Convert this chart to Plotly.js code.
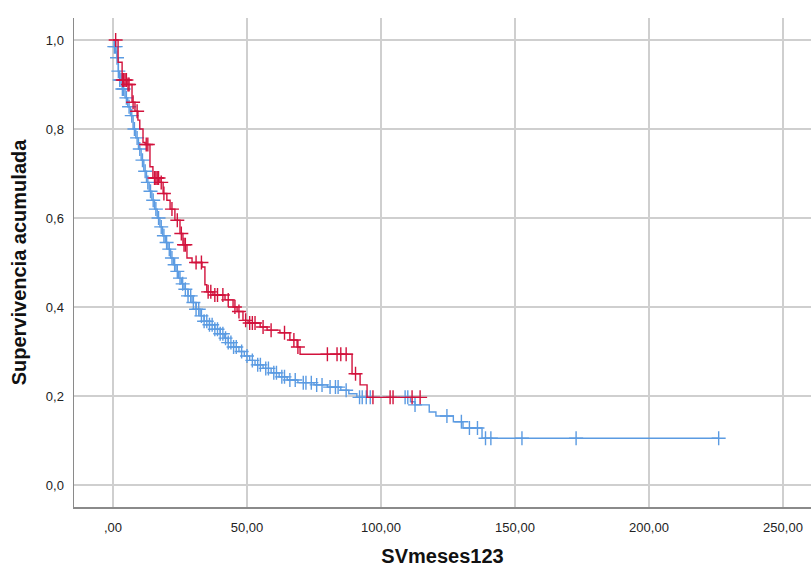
<!DOCTYPE html>
<html>
<head>
<meta charset="utf-8">
<script src="https://cdn.plot.ly/plotly-3.0.1.min.js"></script>
<style>html,body{margin:0;padding:0;background:#fff;}#chart{width:811px;height:567px;}</style>
</head>
<body>
<div id="chart"></div>
<script>
// Group 1 (red): event times and survival after each event
const redTimes = [0, 1.9, 3.4, 5.2, 7.1, 8.2, 9.3, 10, 11.2, 12, 13.8, 14.9, 17.5, 18.7, 20.1, 21.3, 23.1, 25, 26.1, 27.6, 29.5, 33.2, 34.3, 35, 37.3, 41.8, 44.8, 46.3, 48.5, 50.4, 54.9, 57.5, 62.3, 66, 68.7, 69.8, 89.2, 92.2, 94.8];
const redSurv  = [1.0, 0.95, 0.91, 0.90, 0.86, 0.84, 0.82, 0.80, 0.77, 0.765, 0.715, 0.69, 0.68, 0.655, 0.64, 0.62, 0.595, 0.565, 0.54, 0.51, 0.50, 0.49, 0.45, 0.434, 0.427, 0.416, 0.40, 0.39, 0.37, 0.364, 0.355, 0.348, 0.342, 0.326, 0.31, 0.294, 0.25, 0.225, 0.197];
const redCensored = [1, 3.6, 4, 4.5, 5, 5.6, 6, 7.5, 9, 12.4, 13, 15.5, 16, 16.5, 17, 18, 19, 22, 24, 25.5, 26.5, 27, 31, 33, 35.5, 36.5, 38, 39, 41, 43, 45.5, 47, 49.5, 51, 52, 53, 56, 59, 64, 67.5, 69, 80, 83.6, 85, 87, 90.5, 97, 103.4, 104.5, 111.6, 114.6];

// Group 2 (blue)
const blueTimes = [0, 0.5, 1.5, 2, 2.5, 3.5, 4.5, 5.5, 6.5, 7.5, 8.5, 9.5, 10.5, 11.5, 12.5, 13.5, 14.5, 15.5, 16.5, 17.5, 18.5, 19.5, 20.5, 21.5, 22.5, 23.5, 24.5, 25.5, 26.5, 28, 29.5, 31, 32.5, 34, 36, 38, 40, 41.5, 43, 45, 47, 49, 51, 53, 56, 59, 62, 65, 69, 75, 80, 85, 88, 91, 111, 112.7, 118, 120.5, 127, 130.6, 137.7];
const blueSurv  = [1.0, 0.985, 0.96, 0.93, 0.91, 0.89, 0.87, 0.85, 0.83, 0.80, 0.78, 0.755, 0.73, 0.705, 0.68, 0.66, 0.64, 0.62, 0.60, 0.58, 0.56, 0.545, 0.53, 0.51, 0.495, 0.48, 0.465, 0.452, 0.44, 0.425, 0.41, 0.395, 0.38, 0.368, 0.36, 0.35, 0.34, 0.33, 0.32, 0.31, 0.30, 0.29, 0.28, 0.27, 0.262, 0.252, 0.243, 0.236, 0.23, 0.225, 0.22, 0.213, 0.205, 0.197, 0.187, 0.18, 0.164, 0.155, 0.142, 0.128, 0.105];
const blueCensored = [0.5, 1, 1.5, 2, 2.5, 3, 3.5, 4, 5, 6, 7, 8, 9, 10, 11, 12, 13, 14, 15, 16, 17, 18, 19, 20, 21, 22, 23, 24, 25, 26, 27, 28, 29, 30, 31, 32, 33, 34, 35, 36, 37, 38, 39, 40, 41, 42, 43, 44, 45, 46, 48, 50, 52, 54, 55, 57, 58, 60, 61, 63, 64, 66, 68, 71, 72, 74, 76, 78, 81, 83, 84, 87, 92, 93, 94.5, 96, 109, 110, 112.7, 124.6, 130, 133, 136, 139, 141, 152.6, 172.8, 226];

const xTickVals = [0, 50, 100, 150, 200, 250];
const xTickText = [',00', '50,00', '100,00', '150,00', '200,00', '250,00'];
const yTickVals = [0, 0.2, 0.4, 0.6, 0.8, 1.0];
const yTickText = ['0,0', '0,2', '0,4', '0,6', '0,8', '1,0'];

const RED = '#d2123c';
const BLUE = '#5b9be2';

function survAt(times, surv, t) {
  let s = surv[0];
  for (let i = 0; i < times.length; i++) { if (times[i] <= t) s = surv[i]; }
  return s;
}
function stepTrace(times, surv, censored, color) {
  const end = Math.max(censored[censored.length - 1], times[times.length - 1]);
  return {
    x: times.concat([end]), y: surv.concat([surv[surv.length - 1]]),
    mode: 'lines', line: {shape: 'hv', color: color, width: 1.4},
    hoverinfo: 'skip', showlegend: false
  };
}
function censorTrace(times, surv, censored, color) {
  return {
    x: censored, y: censored.map(t => survAt(times, surv, t)),
    mode: 'markers',
    marker: {symbol: 'cross-thin', size: 10, color: color, line: {color: color, width: 1.4}},
    hoverinfo: 'skip', showlegend: false
  };
}

const data = [
  stepTrace(blueTimes, blueSurv, blueCensored, BLUE),
  censorTrace(blueTimes, blueSurv, blueCensored, BLUE),
  stepTrace(redTimes, redSurv, redCensored, RED),
  censorTrace(redTimes, redSurv, redCensored, RED)
];

const layout = {
  width: 811, height: 567,
  margin: {l: 74, r: 0, t: 18, b: 60},
  paper_bgcolor: '#fff', plot_bgcolor: '#fff',
  font: {family: 'Liberation Sans, Arial, sans-serif', color: '#222', size: 13},
  showlegend: false,
  xaxis: {
    range: [-14.55, 260.45], tickvals: xTickVals, ticktext: xTickText,
    showgrid: true, gridcolor: '#cfcfcf', gridwidth: 2, zeroline: false,
    showline: true, linecolor: '#8a8a8a', linewidth: 1.5, ticks: '',
    ticklabelstandoff: 8,
    title: {text: '<b>SVmeses123</b>', font: {size: 20, color: '#111'}, standoff: 18}
  },
  yaxis: {
    range: [-0.0494, 1.0494], tickvals: yTickVals, ticktext: yTickText,
    showgrid: true, gridcolor: '#cfcfcf', gridwidth: 2, zeroline: false,
    showline: true, linecolor: '#8a8a8a', linewidth: 1.5, ticks: '',
    ticklabelstandoff: 6,
    title: {text: '<b>Supervivencia acumulada</b>', font: {size: 20, color: '#111'}, standoff: 14}
  }
};

Plotly.newPlot('chart', data, layout, {displayModeBar: false, staticPlot: true});
</script>
</body>
</html>
